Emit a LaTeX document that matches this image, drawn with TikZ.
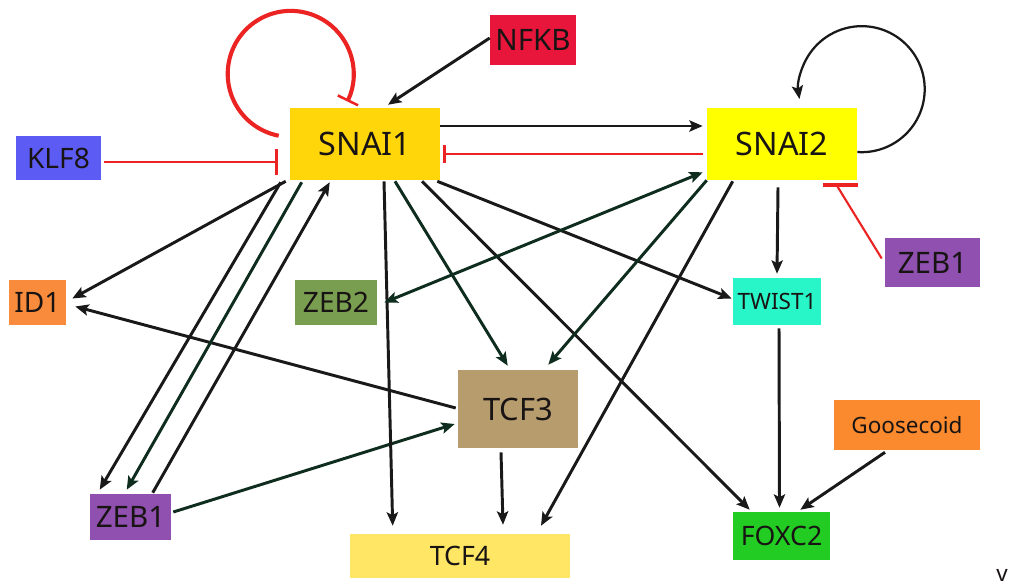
\documentclass[tikz,border=0pt]{standalone}
\usepackage{fontspec}
\setmainfont{Noto Sans}
\usetikzlibrary{positioning, calc, arrows.meta}

\definecolor{snaiAfill}{RGB}{255,214,10}
\definecolor{snaiBfill}{RGB}{255,255,0}
\definecolor{nfkbfill}{RGB}{233,22,60}
\definecolor{klffill}{RGB}{92,92,245}
\definecolor{idfill}{RGB}{248,140,60}
\definecolor{zebBfill}{RGB}{122,158,80}
\definecolor{twistfill}{RGB}{40,245,200}
\definecolor{zebAfill}{RGB}{143,80,175}
\definecolor{tcfCfill}{RGB}{183,156,110}
\definecolor{goosefill}{RGB}{250,138,45}
\definecolor{tcfDfill}{RGB}{255,230,100}
\definecolor{foxfill}{RGB}{34,204,34}
\definecolor{inhred}{RGB}{235,35,35}
\definecolor{edgegreen}{RGB}{15,45,30}
\definecolor{genetext}{RGB}{25,20,20}

\begin{document}
\begin{tikzpicture}[x=0.025cm, y=0.025cm,
  >={Stealth[length=9.5pt, width=8pt, inset=2pt]},
  gene/.style={draw=none, inner sep=0pt, text=genetext},
  act/.style={draw=black!90, line width=2.1pt, ->},
  actg/.style={act, draw=edgegreen},
  rep/.style={draw=inhred, line width=1.5pt, -{Bar[width=#1, line width=1.8pt]}},
  rep/.default=16pt]
\fill[white] (0,0) rectangle (1010,-587);
\useasboundingbox (0,0) rectangle (1010,-587);

% genes: name/x/y/width/height/fill/size/label
\foreach \n/\x/\y/\w/\h/\col/\s/\lbl in {
  snai1/365/144/150/72/snaiAfill/23/SNAI1,
  snai2/782/144/150/72/snaiBfill/23/SNAI2,
  nfkb/533/40/86/50/nfkbfill/21/NFKB,
  klf8/58.5/158/85/44/klffill/20/KLF8,
  id1/37.5/302.5/57/45/idfill/20/ID1,
  zeb2/336/302.5/82/45/zebBfill/20/ZEB2,
  twist1/777/301.5/88/47/twistfill/16/TWIST1,
  zeb1r/932.5/262.5/95/49/zebAfill/21/ZEB1,
  tcf3/518/409/120/78/tcfCfill/22/TCF3,
  goose/907/425/146/50/goosefill/16/Goosecoid,
  zeb1l/130.5/517/81/46/zebAfill/21/ZEB1,
  tcf4/460/556/220/44/tcfDfill/19/TCF4,
  foxc2/781.5/536/97/48/foxfill/19/FOXC2} {
  \node[gene, fill=\col, minimum width=\w*0.7113pt, minimum height=\h*0.7113pt,
        font=\fontsize{\s}{\s}\selectfont] (\n) at (\x,-\y) {\lbl};
}
\node[gene, font=\fontsize{16}{16}\selectfont] (vmark) at (1002,-575) {v};

% self loops
\draw[rep, line width=2.9pt] ($(snai1.north west)+(-11,-28)$) arc[start angle=259, end angle=-26, radius=63];
\draw[act, line width=1.6pt] ($(snai2.east)+(0,-8)$) arc[start angle=-94, end angle=189, radius=63];

% repression
\draw[rep=18pt] ($(klf8.east)+(3,-4)$) -- ($(snai1.west)+(-12,-18)$);
\draw[rep=13pt] ($(snai2.west)+(-4,-10)$) -- ($(snai1.east)+(3,-10)$);
\draw[draw=inhred, line width=1.5pt] ($(zeb1r.west)+(-3,4)$) -- ($(snai2.south east)+(-20,-6)$);
\draw[draw=inhred, line width=2.8pt] ($(snai2.south east)+(-34,-5)$) -- ($(snai2.south east)+(1,-5)$);

% activation
\draw[act] ($(nfkb.west)+(0,2)$) -- ($(snai1.north)+(23,3)$);
\draw[act] ($(snai1.east)+(0,18)$) -- ($(snai2.west)+(-4,18)$);
\draw[act] ($(snai1.south west)+(-4,-1)$) -- ($(id1.east)+(6,4)$);
\draw[act] ($(tcf3.west)+(-2,1)$) -- ($(id1.east)+(9,-4)$);
\draw[act] ($(snai1.south west)+(-9,-2)$) -- ($(zeb1l.north west)+(10,4)$);
\draw[actg] ($(snai1.south west)+(12,-2)$) -- ($(zeb1l.north west)+(37,4)$);
\draw[act] ($(zeb1l.north west)+(63,1)$) -- ($(snai1.south west)+(40,-2)$);
\draw[actg] ($(zeb1l.east)+(2,5)$) -- ($(tcf3.west)+(-3,-15)$);
\draw[act] ($(snai1.south)+(19,-1)$) -- ($(tcf4.north west)+(43,8)$);
\draw[actg] ($(snai1.south)+(30,-1)$) -- ($(tcf3.north west)+(50,4)$);
\draw[act] ($(snai1.south)+(57,-1)$) -- ($(foxc2.north west)+(17,2)$);
\draw[act] ($(snai1.south east)+(-3,-1)$) -- ($(twist1.west)+(-1,3)$);
\draw[actg, <->] ($(zeb2.east)+(7,0)$) -- ($(snai2.south west)+(-4,8)$);
\draw[actg] (snai2.south west) -- ($(tcf3.north east)+(-30,5)$);
\draw[act] ($(snai2.south west)+(26,-1)$) -- ($(tcf4.north)+(81,8)$);
\draw[act] ($(snai2.south)+(-4,-7)$) -- ($(twist1.north)+(0,4)$);
\draw[act] ($(twist1.south)+(2,-3)$) -- ($(foxc2.north)+(-2,4)$);
\draw[act] ($(goose.south)+(-22,-2)$) -- ($(foxc2.north east)+(-30,2)$);
\draw[act] ($(tcf3.south)+(-17,-4)$) -- ($(tcf4.north)+(43,9)$);
\end{tikzpicture}
\end{document}
